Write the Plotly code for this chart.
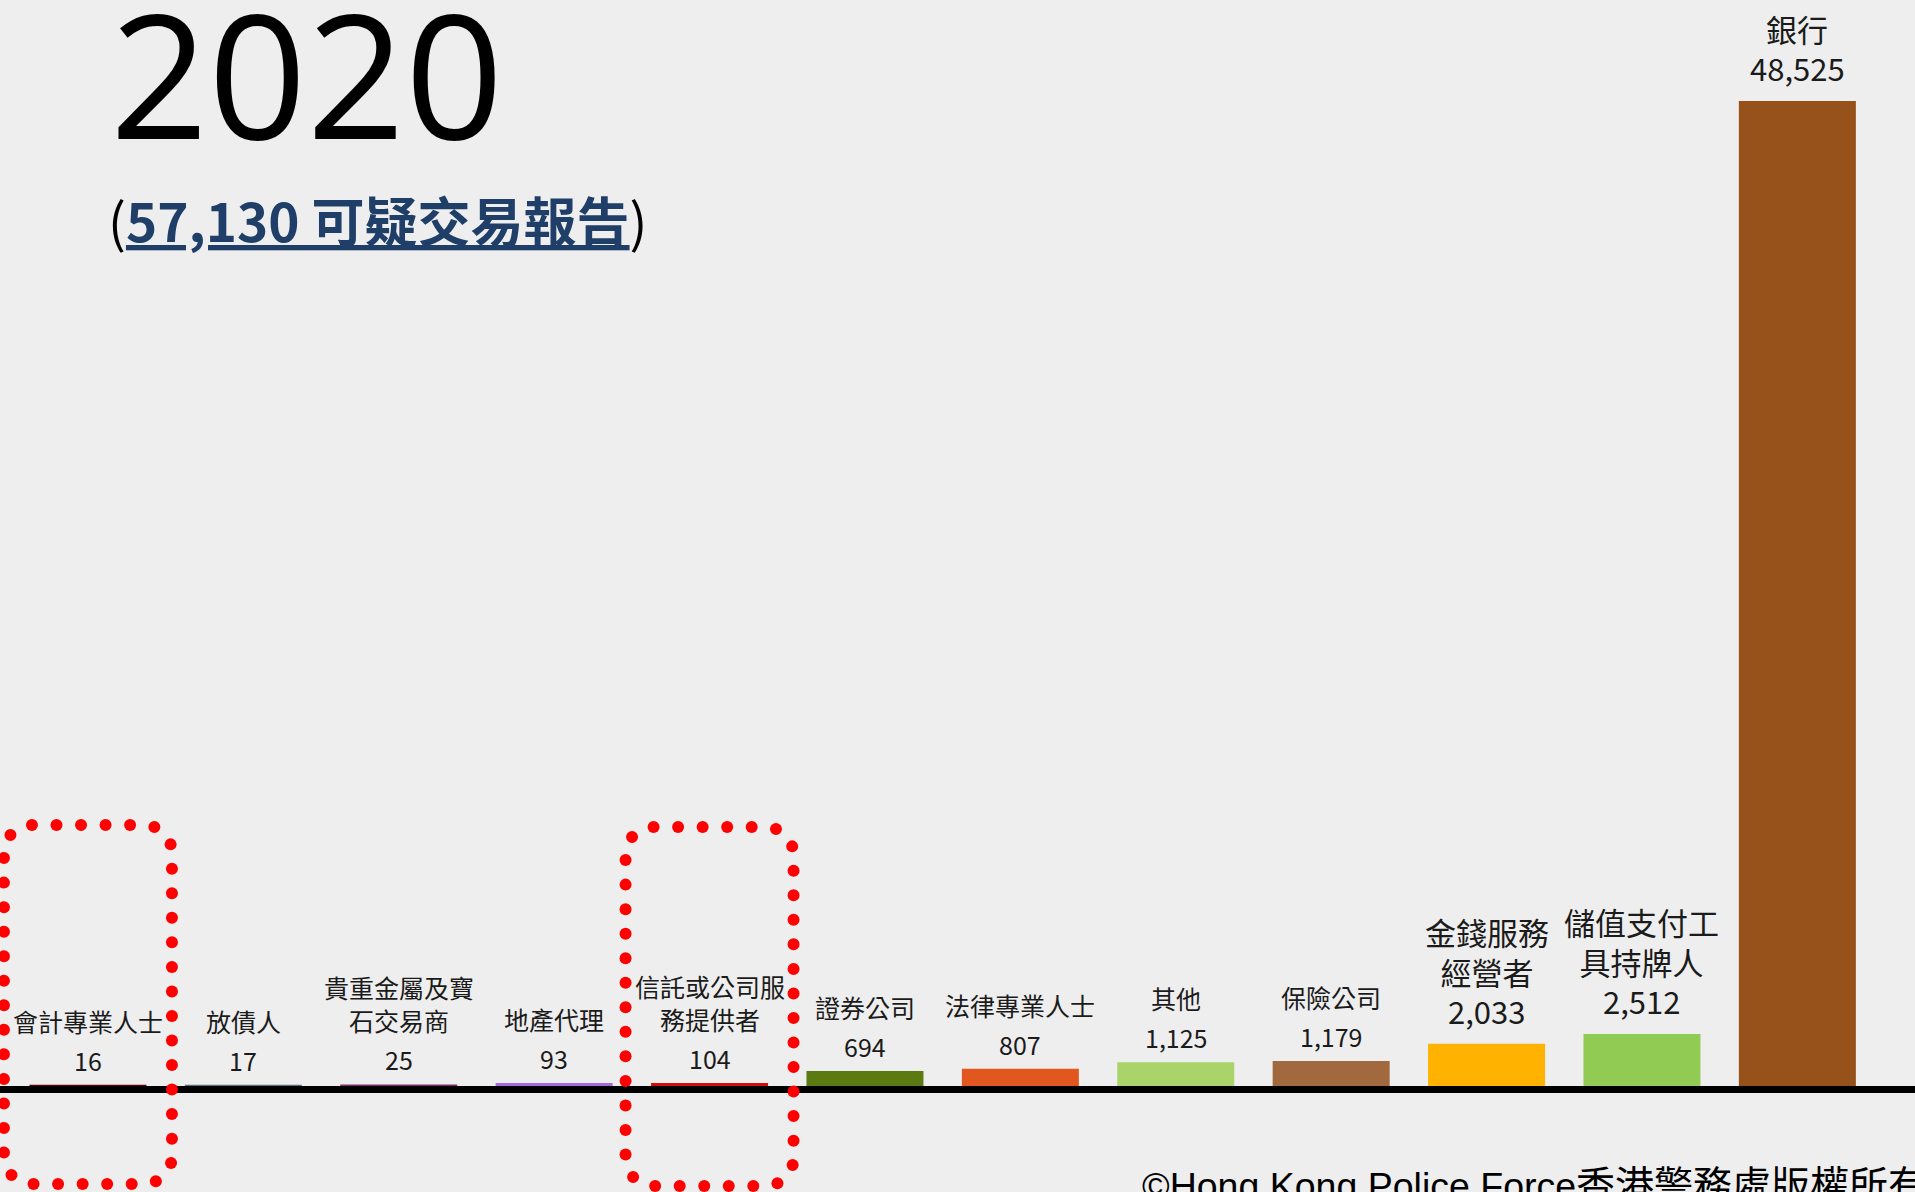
import math
import plotly.graph_objects as go

# ---------------- data ----------------
year_label = "2020"
total_reports = 57130
categories = ["會計專業人士", "放債人", "貴重金屬及寶石交易商", "地產代理",
              "信託或公司服務提供者", "證券公司", "法律專業人士", "其他",
              "保險公司", "金錢服務經營者", "儲值支付工具持牌人", "銀行"]
category_labels = ["會計專業人士", "放債人", "貴重金屬及寶<br>石交易商", "地產代理",
                   "信託或公司服<br>務提供者", "證券公司", "法律專業人士", "其他",
                   "保險公司", "金錢服務<br>經營者", "儲值支付工<br>具持牌人", "銀行"]
values = [16, 17, 25, 93, 104, 694, 807, 1125, 1179, 2033, 2512, 48525]
highlighted = ["會計專業人士", "信託或公司服務提供者"]
copyright_en = "©Hong Kong Police Force"
copyright_zh = "香港警務處版權所有"

# ---------------- styles ----------------
bar_colors = ["#5E0202", "#527080", "#7E2C72", "#A66BD6", "#D30B0B", "#5B7B12",
              "#E2561F", "#A9D46A", "#A2683E", "#FFB300", "#92CB54", "#96521A"]
W, H = 1915, 1192
PLOT_BOTTOM = 1086           # pixel row of the bars' base
BG = "#eeeeee"
LABEL_FONT = "Noto Sans CJK TC, Noto Sans, sans-serif"
TEXT_COLOR = "#1b1b1b"
NAVY = "#1F3F68"

fig = go.Figure()
fig.add_trace(go.Bar(
    x=categories, y=values,
    marker=dict(color=bar_colors, line=dict(color=bar_colors, width=2)),
    width=0.74, hoverinfo="x+y", showlegend=False,
))

# value + category labels above each bar
annotations = []
for cat, lab, v in zip(categories, category_labels, values):
    big = v >= 2000
    fs = 31 if big else 25
    gap = 10 if big else 6
    annotations.append(dict(x=cat, y=v, xref="x", yref="y", text=f"{v:,}",
                            showarrow=False, yanchor="bottom", yshift=gap,
                            font=dict(family=LABEL_FONT, size=fs, color=TEXT_COLOR)))
    annotations.append(dict(x=cat, y=v, xref="x", yref="y", text=lab,
                            showarrow=False, yanchor="bottom", yshift=gap + 39,
                            font=dict(family=LABEL_FONT, size=fs, color=TEXT_COLOR)))


def py(px_row):
    """pixel row -> paper y"""
    return (PLOT_BOTTOM - px_row) / PLOT_BOTTOM


annotations.append(dict(x=108 / W, y=py(72), xref="paper", yref="paper", text=year_label,
                        showarrow=False, xanchor="left", yanchor="middle",
                        font=dict(family="Open Sans, Noto Sans", size=172, color="#000000")))
annotations.append(dict(
    x=106 / W, y=py(219), xref="paper", yref="paper",
    text=f"(<span style='color:{NAVY}'><u><b>{total_reports:,} 可疑交易報告</b></u></span>)",
    showarrow=False, xanchor="left", yanchor="middle",
    font=dict(family=LABEL_FONT, size=53, color="#000000")))
annotations.append(dict(
    x=1140 / W, y=py(1162), xref="paper", yref="paper",
    text=f"{copyright_en}<span style='font-size:39px'>{copyright_zh}</span>",
    showarrow=False, xanchor="left", yanchor="top",
    font=dict(family="Liberation Sans, Noto Sans CJK TC", size=37.5, color="#000000")))


# dotted rounded frames around highlighted bars
def dotted_frame(cat, top, height, width=168, radius=28, spacing=24.5, dot=12):
    w, h, r = width, height, radius
    segs = [("line", (r, 0), (w - r, 0)), ("arc", (w - r, r), -90, 0),
            ("line", (w, r), (w, h - r)), ("arc", (w - r, h - r), 0, 90),
            ("line", (w - r, h), (r, h)), ("arc", (r, h - r), 90, 180),
            ("line", (0, h - r), (0, r)), ("arc", (r, r), 180, 270)]

    def seg_len(s):
        if s[0] == "line":
            return math.dist(s[1], s[2])
        return math.pi * r / 2

    per = sum(seg_len(s) for s in segs)
    n = round(per / spacing)
    step = per / n
    out = []
    for k in range(n):
        d = k * step
        for s in segs:
            L = seg_len(s)
            if d <= L:
                t = d / L
                if s[0] == "line":
                    x = s[1][0] + t * (s[2][0] - s[1][0])
                    y = s[1][1] + t * (s[2][1] - s[1][1])
                else:
                    a = math.radians(s[2] + t * (s[3] - s[2]))
                    x = s[1][0] + r * math.cos(a)
                    y = s[1][1] + r * math.sin(a)
                break
            d -= L
        dx = x - w / 2
        dy = PLOT_BOTTOM - (top + y)
        out.append(dict(type="circle", xref="x", xsizemode="pixel", xanchor=cat,
                        x0=dx - dot / 2, x1=dx + dot / 2,
                        yref="paper", ysizemode="pixel", yanchor=0,
                        y0=dy - dot / 2, y1=dy + dot / 2,
                        fillcolor="#FF0000", line=dict(width=0), layer="above"))
    return out


shapes = []
shapes += dotted_frame(highlighted[0], top=825, height=359)
shapes += dotted_frame(highlighted[1], top=827, height=359)

fig.update_layout(
    width=W, height=H,
    margin=dict(l=0, r=0, t=0, b=H - PLOT_BOTTOM, pad=0),
    paper_bgcolor=BG, plot_bgcolor="rgba(0,0,0,0)",
    bargap=0.2,
    xaxis=dict(type="category", range=[-0.566, 11.757], showline=True, linecolor="#000000",
               linewidth=7, showticklabels=False, ticks="", showgrid=False, zeroline=False,
               fixedrange=True),
    yaxis=dict(range=[0, 53555], visible=False, showgrid=False, zeroline=False, fixedrange=True),
    annotations=annotations,
    shapes=shapes,
)

fig.write_html("out.html", config={"displayModeBar": False},
               post_script="document.body.style.margin='0';document.body.style.overflow='hidden';")
